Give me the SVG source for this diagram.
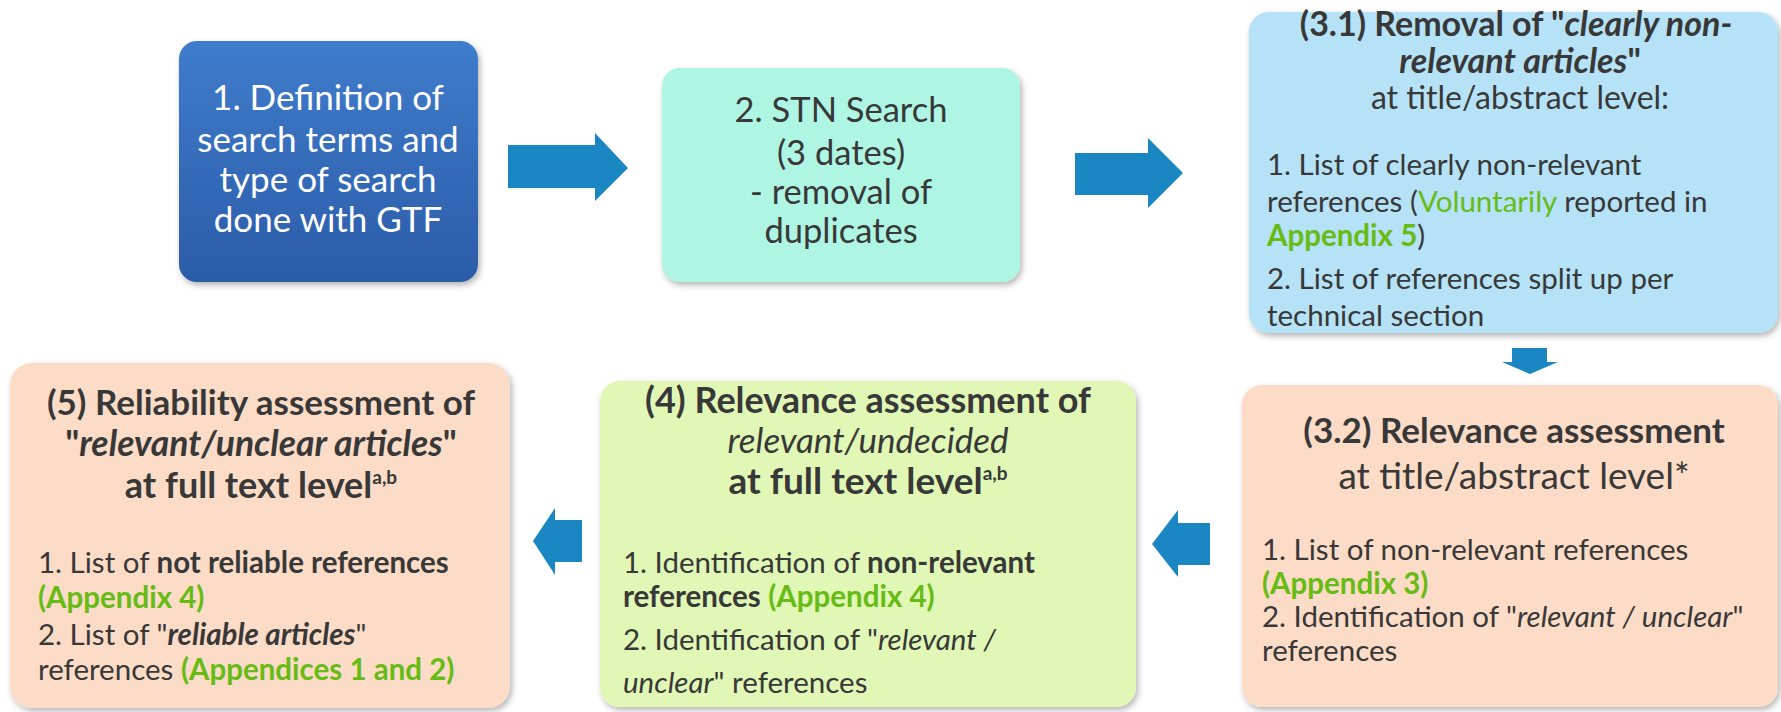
<svg xmlns="http://www.w3.org/2000/svg" width="1781" height="712" viewBox="0 0 1781 712">
<style>
text{font-family:Lato,"Open Sans","Liberation Sans",sans-serif;fill:#383838}
.w{fill:#ffffff}
.c{text-anchor:middle}
.bd{font-weight:bold}
.it{font-style:italic}
.g{fill:#66bb14}
.t1{font-size:35px}
.t2{font-size:34.5px}
.bo{font-size:29.5px}
.sup{font-size:19px}
.arrow{fill:#1a87c2}
</style>
<defs>
<linearGradient id="blue" x1="0" y1="0" x2="0" y2="1">
<stop offset="0" stop-color="#3f7ccc"/>
<stop offset="1" stop-color="#2b5ca8"/>
</linearGradient>
<filter id="sh" x="-10%" y="-10%" width="125%" height="125%">
<feDropShadow dx="2" dy="3" stdDeviation="3" flood-color="#000" flood-opacity="0.3"/>
</filter>
</defs>
<rect width="1781" height="712" fill="#ffffff"/>
<g id="connectors">
<polygon class="arrow" points="508,145 595,145 595,133 628,168 595,201 595,188 508,188"/>
<polygon class="arrow" points="1075,153 1148,153 1148,138 1183,173 1148,208 1148,195 1075,195"/>
<polygon class="arrow" points="1512,348 1547,348 1547,362 1558,362 1530,374 1502,362 1512,362"/>
<polygon class="arrow" points="1210,523 1178,523 1178,510 1152,544 1178,577 1178,565 1210,565"/>
<polygon class="arrow" points="582,520 555,520 555,508 533,541 555,575 555,562 582,562"/>
</g>
<g id="n1">
<rect x="179" y="41" width="299" height="241" rx="18" fill="url(#blue)" filter="url(#sh)"/>
<text class="w c t1" x="328" y="110">1. Definition of</text>
<text class="w c t1" x="328" y="152">search terms and</text>
<text class="w c t1" x="328" y="192">type of search</text>
<text class="w c t1" x="328" y="232">done with GTF</text>
</g>
<g id="n2">
<rect x="662" y="68" width="358" height="214" rx="18" fill="#aef5e4" filter="url(#sh)"/>
<text class="c t2" x="841" y="122">2. STN Search</text>
<text class="c t2" x="841" y="165">(3 dates)</text>
<text class="c t2" x="841" y="204">- removal of</text>
<text class="c t2" x="841" y="243">duplicates</text>
</g>
<g id="n31">
<rect x="1249" y="12" width="529" height="321" rx="20" fill="#b5e2f7" filter="url(#sh)"/>
<text class="c bd" style="font-size:34px" x="1516" y="36">(3.1) Removal of "<tspan class="it">clearly non-</tspan></text>
<text class="c bd" style="font-size:34px" x="1520" y="73"><tspan class="it">relevant articles</tspan>"</text>
<text class="c" style="font-size:32px" x="1520" y="109">at title/abstract level:</text>
<text class="bo" x="1267" y="175">1. List of clearly non-relevant</text>
<text class="bo" x="1267" y="212">references (<tspan class="g">Voluntarily</tspan> reported in</text>
<text class="bo" x="1267" y="246"><tspan class="g bd">Appendix 5</tspan>)</text>
<text class="bo" x="1267" y="289">2. List of references split up per</text>
<text class="bo" x="1267" y="326">technical section</text>
</g>
<g id="n32">
<rect x="1242" y="385" width="536" height="322" rx="20" fill="#fcdcc6" filter="url(#sh)"/>
<text class="c bd" style="font-size:35px" x="1514" y="443">(3.2) Relevance assessment</text>
<text class="c" style="font-size:37px" x="1514" y="489">at title/abstract level*</text>
<text class="bo" x="1262" y="560">1. List of non-relevant references</text>
<text class="bo g bd" x="1262" y="594">(Appendix 3)</text>
<text class="bo" x="1262" y="627">2. Identification of "<tspan class="it">relevant / unclear</tspan>"</text>
<text class="bo" x="1262" y="661">references</text>
</g>
<g id="n4">
<rect x="600" y="381" width="536" height="326" rx="20" fill="#e0f7b6" filter="url(#sh)"/>
<text class="c bd" style="font-size:36px" x="868" y="413">(4) Relevance assessment of</text>
<text class="c it" style="font-size:35px" x="868" y="453">relevant/undecided</text>
<text class="c bd" style="font-size:37px" x="868" y="494">at full text level<tspan class="sup" dy="-14">a,b</tspan></text>
<text class="bo" x="623" y="573">1. Identification of <tspan class="bd">non-relevant</tspan></text>
<text class="bo" x="623" y="607"><tspan class="bd">references</tspan> <tspan class="g bd">(Appendix 4)</tspan></text>
<text class="bo" x="623" y="650">2. Identification of "<tspan class="it">relevant /</tspan></text>
<text class="bo" x="623" y="693"><tspan class="it">unclear</tspan>" references</text>
</g>
<g id="n5">
<rect x="10" y="363" width="500" height="345" rx="22" fill="#fcdcc6" filter="url(#sh)"/>
<text class="c bd" style="font-size:35px" x="261" y="415">(5) Reliability assessment of</text>
<text class="c bd" style="font-size:35.5px" x="261" y="456">"<tspan class="it">relevant/unclear articles</tspan>"</text>
<text class="c bd" style="font-size:36px" x="261" y="498">at full text level<tspan class="sup" dy="-14">a,b</tspan></text>
<text class="bo" x="38" y="573">1. List of <tspan class="bd">not reliable references</tspan></text>
<text class="bo g bd" x="38" y="608">(Appendix 4)</text>
<text class="bo" x="38" y="645">2. List of "<tspan class="bd it">reliable articles</tspan>"</text>
<text class="bo" x="38" y="680">references <tspan class="g bd">(Appendices 1 and 2)</tspan></text>
</g>
</svg>
